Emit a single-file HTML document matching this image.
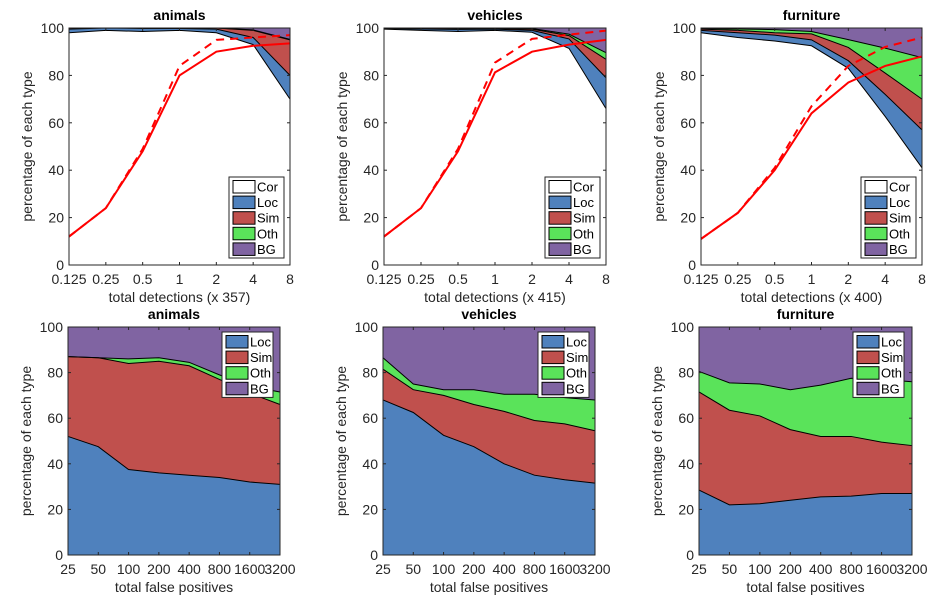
<!DOCTYPE html>
<html><head><meta charset="utf-8"><style>
body{margin:0;background:#fff;}
svg{display:block;font-family:"Liberation Sans",sans-serif;}
</style></head><body>
<svg id="fig" width="939" height="602" viewBox="0 0 939 602"></svg>
<script>
// top-row data: x = 0.125..8 (log2), cumulative boundaries
const detTicks = ["0.125","0.25","0.5","1","2","4","8"];
const fpTicks = ["25","50","100","200","400","800","1600","3200"];
const yTicks = [0,20,40,60,80,100];

const animCor = [98,99,98.5,99,98,93,70];
const animLoc = [99.5,100,99.8,99.8,99.5,96,80];
const animSim = [100,100,100,100,100,99,95];
const animOth = [100,100,100,100,100,99.2,95.2];
const animSolid = [12,24,48,80,90,92.5,93.5];
const animDash = [12,24,49,84,95,96,97];

const vehCor = [99.5,99,98.5,99,98.2,91.4,66];
const vehLoc = [99.8,99.6,99.4,99.5,99,95.4,79];
const vehSim = [100,99.9,99.8,99.8,99.5,96.8,86.8];
const vehOth = [100,100,100,100,99.8,97.4,89.6];
const vehSolid = [12,24,48,81.3,90,93,95];
const vehDash = [12,24,49,85.4,95.4,97.2,98.9];

const furCor = [98,96,94.5,92.5,83,62.7,41];
const furLoc = [99,98,97,95,86.2,72,57];
const furSim = [99.5,99,98,97.5,91.8,81,70];
const furOth = [99.8,99.6,99.3,98.5,95.1,91.5,87.5];
const furSolid = [11,22,40,64,77,84,88];
const furDash = [11,22,41,67,84,92,96];

// bottom-row data: cumulative Loc, Loc+Sim, Loc+Sim+Oth
const aLoc = [52,47.5,37.5,36,35,34,32,31];
const aSim = [87,86.5,84,85,83,77,71,66];
const aOth = [87,86.5,86,86.5,84.5,79,74,71.5];
const vLoc = [68,62.5,52.5,47.5,40,35,33,31.5];
const vSim = [81.5,72.5,70,66,63,59,57.5,54.5];
const vOth = [86.5,75,72.5,72.5,70.5,70.5,69,68];
const fLoc = [28.5,22,22.5,24,25.5,25.8,27,27];
const fSim = [71.5,63.5,61,55,52,52,49.5,48];
const fOth = [80.5,75.5,75,72.5,74.5,77.5,77,76];

const C = {cor:"#ffffff",loc:"#4f81bd",sim:"#c0504d",oth:"#5ae35a",bg:"#8064a2"};
const NS="http://www.w3.org/2000/svg";
const svg=document.getElementById("fig");
function mk(tag,attrs,parent){const e=document.createElementNS(NS,tag);for(const k in attrs)e.setAttribute(k,attrs[k]);(parent||svg).appendChild(e);return e;}

function panel(opt){
  const g=mk("g",{});
  
  
  const n=opt.ticks.length;
  const X=i=>opt.x0+(opt.x1-opt.x0)*i/(n-1);
  const Y=v=>opt.y1-(opt.y1-opt.y0)*v/100;
  const poly=(lo,hi,col,nm)=>{
    let pts=[];
    for(let i=0;i<n;i++)pts.push(X(i)+","+Y(hi[i]));
    for(let i=n-1;i>=0;i--)pts.push(X(i)+","+Y(lo?lo[i]:0));
    const p=mk("polygon",{points:pts.join(" "),fill:col,stroke:"none"},g);
    
    
  };
  const line=(arr,col,w,dash,nm)=>{
    const pts=arr.map((v,i)=>X(i)+","+Y(v)).join(" ");
    const l=mk("polyline",{points:pts,fill:"none",stroke:col,"stroke-width":w},g);
    if(dash)l.setAttribute("stroke-dasharray",dash);
    
    
  };
  const full=new Array(n).fill(100);
  const L=opt.layers;
  const fills=opt.fills;
  for(let k=fills.length-1;k>=0;k--){
    poly(k===0?null:L[k-1], k<L.length?L[k]:full, fills[k][1], "area-"+fills[k][0]);
  }
  L.forEach((b,k)=>line(b,"#000",1,null,"boundary-"+k));
  if(opt.solid){line(opt.solid,"#ff0000",2,null,"recall-line");line(opt.dash,"#ff0000",2,"8,6","recall-dashed-line");}
  const fr=mk("rect",{x:opt.x0,y:opt.y0,width:opt.x1-opt.x0,height:opt.y1-opt.y0,fill:"none",stroke:"#262626","stroke-width":1},g);
  
  
  opt.ticks.forEach((t,i)=>{
    mk("line",{x1:X(i),x2:X(i),y1:opt.y1,y2:opt.y1-3,stroke:"#262626"},g);
    mk("line",{x1:X(i),x2:X(i),y1:opt.y0,y2:opt.y0+3,stroke:"#262626"},g);
    const tx=mk("text",{x:X(i),y:opt.y1+19,"font-size":14,"text-anchor":"middle",fill:"#262626"},g);
    tx.textContent=t;
    
    
  });
  yTicks.forEach(v=>{
    mk("line",{x1:opt.x0,x2:opt.x0+3,y1:Y(v),y2:Y(v),stroke:"#262626"},g);
    mk("line",{x1:opt.x1,x2:opt.x1-3,y1:Y(v),y2:Y(v),stroke:"#262626"},g);
    const tx=mk("text",{x:opt.x0-5,y:Y(v)+5,"font-size":14,"text-anchor":"end",fill:"#262626"},g);
    tx.textContent=v;
    
    
  });
  const cx=(opt.x0+opt.x1)/2;
  const ti=mk("text",{x:cx,y:opt.y0-8,"font-size":14,"font-weight":"bold","text-anchor":"middle",fill:"#000"},g);
  ti.textContent=opt.title;
  
  
  const xl=mk("text",{x:cx,y:opt.y1+37,"font-size":14,"text-anchor":"middle",fill:"#262626"},g);
  xl.textContent=opt.xlabel;
  
  
  const ym=(opt.y0+opt.y1)/2, yx=opt.x0-37;
  const yl=mk("text",{x:yx,y:ym,"font-size":14,"text-anchor":"middle",fill:"#262626",transform:`rotate(-90 ${yx} ${ym})`},g);
  yl.textContent="percentage of each type";
  
  
  const lg=opt.legend;
  const lgG=mk("g",{},g);
  
  
  mk("rect",{x:lg.x,y:lg.y,width:lg.w,height:lg.entries.length*15.6+3,fill:"#fff",stroke:"#262626"},lgG);
  lg.entries.forEach((e,i)=>{
    const yy=lg.y+2+i*15.6;
    const sw=mk("rect",{x:lg.x+4,y:yy+1.5,width:22,height:12.5,fill:e[1],stroke:"#000"},lgG);
    
    
    const t=mk("text",{x:lg.x+28,y:yy+12.5,"font-size":13,fill:"#000"},lgG);
    t.textContent=e[0];
    
    
  });
}
const topFills=[["cor",C.cor],["loc",C.loc],["sim",C.sim],["oth",C.oth],["bg",C.bg]];
const botFills=[["loc",C.loc],["sim",C.sim],["oth",C.oth],["bg",C.bg]];
const topLeg=[["Cor",C.cor],["Loc",C.loc],["Sim",C.sim],["Oth",C.oth],["BG",C.bg]];
const botLeg=[["Loc",C.loc],["Sim",C.sim],["Oth",C.oth],["BG",C.bg]];

panel({name:"animals-detections-panel",title:"animals",xlabel:"total detections (x 357)",x0:69,x1:290,y0:28,y1:265,ticks:detTicks,layers:[animCor,animLoc,animSim,animOth],fills:topFills,solid:animSolid,dash:animDash,legend:{x:229,y:177,w:55,entries:topLeg}});
panel({name:"vehicles-detections-panel",title:"vehicles",xlabel:"total detections (x 415)",x0:384,x1:606,y0:28,y1:265,ticks:detTicks,layers:[vehCor,vehLoc,vehSim,vehOth],fills:topFills,solid:vehSolid,dash:vehDash,legend:{x:545,y:177,w:55,entries:topLeg}});
panel({name:"furniture-detections-panel",title:"furniture",xlabel:"total detections (x 400)",x0:701,x1:922,y0:28,y1:265,ticks:detTicks,layers:[furCor,furLoc,furSim,furOth],fills:topFills,solid:furSolid,dash:furDash,legend:{x:861,y:177,w:55,entries:topLeg}});

panel({name:"animals-fp-panel",title:"animals",xlabel:"total false positives",x0:68,x1:280,y0:327,y1:555,ticks:fpTicks,layers:[aLoc,aSim,aOth],fills:botFills,legend:{x:222,y:332,w:51,entries:botLeg}});
panel({name:"vehicles-fp-panel",title:"vehicles",xlabel:"total false positives",x0:383,x1:595,y0:327,y1:555,ticks:fpTicks,layers:[vLoc,vSim,vOth],fills:botFills,legend:{x:538,y:332,w:51,entries:botLeg}});
panel({name:"furniture-fp-panel",title:"furniture",xlabel:"total false positives",x0:699,x1:912,y0:327,y1:555,ticks:fpTicks,layers:[fLoc,fSim,fOth],fills:botFills,legend:{x:853,y:332,w:51,entries:botLeg}});
</script>
</body></html>
